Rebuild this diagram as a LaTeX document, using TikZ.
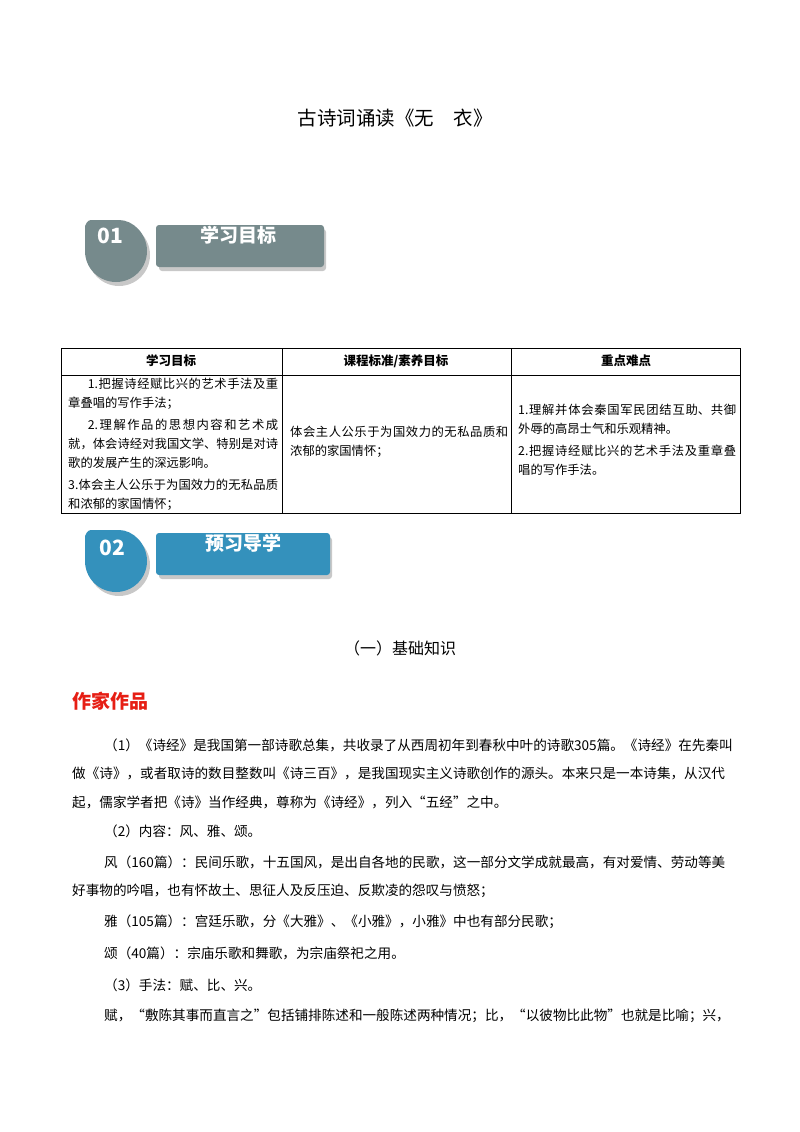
\documentclass[tikz,border=0pt]{standalone}
\usepackage{fontspec}
\setmainfont{Noto Sans CJK SC}
\XeTeXlinebreaklocale "zh"
\XeTeXlinebreakskip=0pt plus 1pt
\definecolor{gbadge}{RGB}{118,138,140}
\definecolor{bbadge}{RGB}{52,145,188}
\definecolor{shad}{RGB}{200,200,200}
\definecolor{redt}{RGB}{230,30,20}
\tikzset{
 body/.style={anchor=west,inner sep=0pt,font=\fontsize{13.6}{16}\selectfont},
 cell/.style={anchor=north west,inner sep=0pt,align=justify,font=\fontsize{12.3}{19}\selectfont},
 hdr/.style={inner sep=0pt,font=\fontsize{12.5}{15}\selectfont\bfseries},
 btitle/.style={text=white,font=\fontsize{19}{20}\selectfont\bfseries,inner sep=0pt},
 bnum/.style={text=white,font=\fontsize{21}{22}\selectfont\bfseries,inner sep=0pt}
}
\begin{document}
\begin{tikzpicture}[x=1pt,y=-1pt]
\useasboundingbox (0,0) rectangle (800,1132);
\node[font=\fontsize{19.5}{20}\selectfont] (title) at (395,118) {古诗词诵读《无\quad 衣》};
% badge 1 (center y 251)
\fill[shad] (119,255) circle (31);
\fill[gbadge] (116,220) arc (270:540:31) -- (85,226) [rounded corners=3pt]-- (88,220) -- cycle;
\node[bnum] (n1) at (110,236) {01};
\fill[shad,rounded corners=3pt] (159,229) rectangle (326,271);
\fill[gbadge,rounded corners=3pt] (156,225) rectangle (324,267);
\node[btitle] (t1) at (238,235) {学习目标};
% table
\draw[line width=0.8pt] (61,348) rectangle (740,513);
\draw[line width=0.8pt] (61,375) -- (740,375);
\draw[line width=0.8pt] (282,348) -- (282,513);
\draw[line width=0.8pt] (511,348) -- (511,513);
\node[hdr] (h1) at (171,361) {学习目标};
\node[hdr] (h2) at (396,361) {课程标准/素养目标};
\node[hdr] (h3) at (626,361) {重点难点};
\node[cell,text width=210pt] (c1) at (68,378) {\hspace*{1.6em}1.把握诗经赋比兴的艺术手法及重章叠唱的写作手法；\\[3pt]
\hspace*{1.6em}2.理解作品的思想内容和艺术成就，体会诗经对我国文学、特别是对诗歌的发展产生的深远影响。\\[3pt]
3.体会主人公乐于为国效力的无私品质和浓郁的家国情怀；};
\node[cell,text width=218pt] (c2) at (290,426) {体会主人公乐于为国效力的无私品质和浓郁的家国情怀；};
\node[cell,text width=218pt] (c3) at (518,404) {1.理解并体会秦国军民团结互助、共御外辱的高昂士气和乐观精神。\\[3pt]
2.把握诗经赋比兴的艺术手法及重章叠唱的写作手法。};
% badge 2 (center y 561)
\fill[shad] (119,565) circle (31);
\fill[bbadge] (116,530) arc (270:540:31) -- (85,536) [rounded corners=3pt]-- (88,530) -- cycle;
\node[bnum] (n2) at (112,548) {02};
\fill[shad,rounded corners=3pt] (159,537) rectangle (332,579);
\fill[bbadge,rounded corners=3pt] (156,533) rectangle (330,575);
\node[btitle] (t2) at (243,543) {预习导学};
\node[font=\fontsize{16}{18}\selectfont] (sec) at (400,648) {（一）基础知识};
\node[anchor=west,inner sep=0pt,text=redt,font=\fontsize{19}{20}\selectfont\bfseries] (zj) at (72,701) {作家作品};
\node[body] (l1) at (104,745) {（1）《诗经》是我国第一部诗歌总集，共收录了从西周初年到春秋中叶的诗歌305篇。《诗经》在先秦叫};
\node[body] (l2) at (72,773) {做《诗》，或者取诗的数目整数叫《诗三百》，是我国现实主义诗歌创作的源头。本来只是一本诗集，从汉代};
\node[body] (l3) at (72,802) {起，儒家学者把《诗》当作经典，尊称为《诗经》，列入“五经”之中。};
\node[body] (l4) at (104,831) {（2）内容：风、雅、颂。};
\node[body] (l5) at (104,862) {风（160篇）：民间乐歌，十五国风，是出自各地的民歌，这一部分文学成就最高，有对爱情、劳动等美};
\node[body] (l6) at (72,891) {好事物的吟唱，也有怀故土、思征人及反压迫、反欺凌的怨叹与愤怒；};
\node[body] (l7) at (104,922) {雅（105篇）：宫廷乐歌，分《大雅》、《小雅》，小雅》中也有部分民歌；};
\node[body] (l8) at (104,953) {颂（40篇）：宗庙乐歌和舞歌，为宗庙祭祀之用。};
\node[body] (l9) at (104,985) {（3）手法：赋、比、兴。};
\node[body] (l10) at (104,1016) {赋，“敷陈其事而直言之”包括铺排陈述和一般陈述两种情况；比，“以彼物比此物”也就是比喻；兴，};
\end{tikzpicture}
\end{document}
